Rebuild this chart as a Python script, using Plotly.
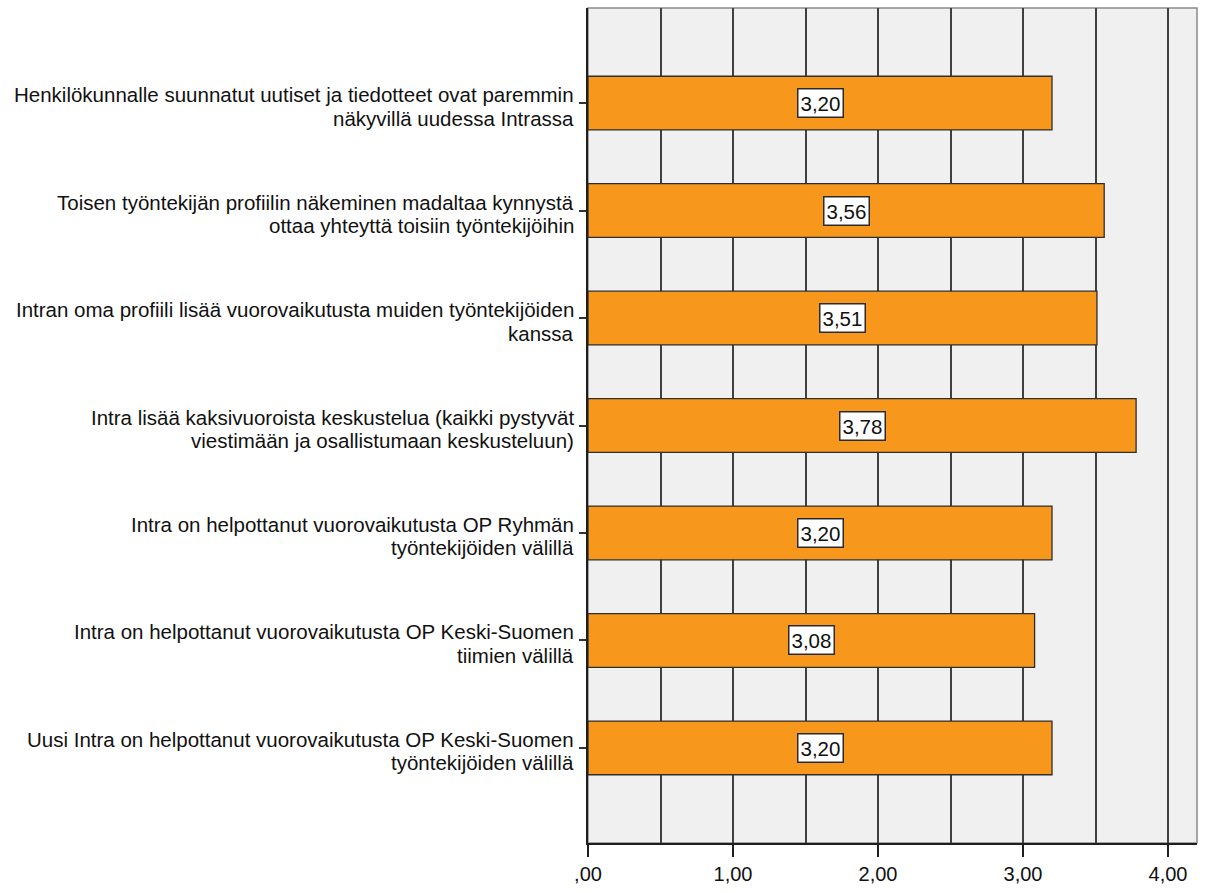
import plotly.graph_objects as go

# Survey statements (each split into its two display lines) and mean scores
statement_lines = [
    ["Henkilökunnalle suunnatut uutiset ja tiedotteet ovat paremmin", "näkyvillä uudessa Intrassa"],
    ["Toisen työntekijän profiilin näkeminen madaltaa kynnystä", "ottaa yhteyttä toisiin työntekijöihin"],
    ["Intran oma profiili lisää vuorovaikutusta muiden työntekijöiden", "kanssa"],
    ["Intra lisää kaksivuoroista keskustelua (kaikki pystyvät", "viestimään ja osallistumaan keskusteluun)"],
    ["Intra on helpottanut vuorovaikutusta OP Ryhmän", "työntekijöiden välillä"],
    ["Intra on helpottanut vuorovaikutusta OP Keski-Suomen", "tiimien välillä"],
    ["Uusi Intra on helpottanut vuorovaikutusta OP Keski-Suomen", "työntekijöiden välillä"],
]
mean_scores = [3.20, 3.56, 3.51, 3.78, 3.20, 3.08, 3.20]

x_tick_values = [0, 1, 2, 3, 4]
x_tick_labels = [",00", "1,00", "2,00", "3,00", "4,00"]

categories = [" ".join(lines) for lines in statement_lines]

FONT = "Arial, 'Liberation Sans', sans-serif"
TEXT_COLOR = "#111111"
BAR_COLOR = "#F7981D"
GRID_COLOR = "#404040"
AXIS_COLOR = "#1E1E1E"


def fi_number(v):
    return f"{v:.2f}".replace(".", ",")


fig = go.Figure(
    go.Bar(
        x=mean_scores,
        y=categories,
        orientation="h",
        width=0.5,
        marker=dict(color=BAR_COLOR, line=dict(color="#2E2E2E", width=1.3)),
        hoverinfo="skip",
    )
)

annotations = []
# value boxes centred on each bar
for cat, v in zip(categories, mean_scores):
    annotations.append(
        dict(
            x=v / 2, y=cat, xref="x", yref="y",
            text=fi_number(v), showarrow=False,
            font=dict(family=FONT, size=20.5, color=TEXT_COLOR),
            bgcolor="#FFFFFF", bordercolor="#2A2A2A", borderwidth=1.5, borderpad=2,
            xanchor="center", yanchor="middle",
        )
    )

# right-aligned two-line category labels next to the y ticks
LINE_STEP = 23.5
for cat, lines in zip(categories, statement_lines):
    for i, line in enumerate(lines):
        annotations.append(
            dict(
                x=0, y=cat, xref="paper", yref="y",
                text=line, showarrow=False,
                font=dict(family=FONT, size=20.5, color=TEXT_COLOR),
                xanchor="right", yanchor="middle",
                xshift=-12, yshift=8.5 - LINE_STEP * i,
            )
        )

fig.update_layout(
    width=1205,
    height=893,
    margin=dict(l=588, r=8, t=8, b=40),
    paper_bgcolor="#FFFFFF",
    plot_bgcolor="#F0F0F0",
    showlegend=False,
    bargap=0.5,
    font=dict(family=FONT, size=20, color=TEXT_COLOR),
    annotations=annotations,
    shapes=[
        # light frame on the top and right edges of the plot area
        dict(type="rect", xref="paper", yref="paper", x0=0, x1=1, y0=0, y1=1,
             line=dict(color="#8A8A8A", width=1.5), layer="below"),
    ],
    xaxis=dict(
        range=[0, 4.2],
        tickvals=x_tick_values,
        ticktext=x_tick_labels,
        ticks="outside",
        ticklen=12,
        tickwidth=2,
        tickcolor=AXIS_COLOR,
        tickfont=dict(family=FONT, size=20, color=TEXT_COLOR),
        showline=True,
        linecolor=AXIS_COLOR,
        linewidth=2,
        showgrid=True,
        gridcolor=GRID_COLOR,
        gridwidth=2,
        minor=dict(dtick=0.5, tick0=0, showgrid=True, gridcolor=GRID_COLOR, gridwidth=2, ticks=""),
        zeroline=False,
        fixedrange=True,
    ),
    yaxis=dict(
        type="category",
        categoryorder="array",
        categoryarray=categories,
        range=[6.885, -0.885],
        showticklabels=False,
        ticks="outside",
        ticklen=7,
        tickwidth=1.5,
        tickcolor="#333333",
        showline=True,
        linecolor=AXIS_COLOR,
        linewidth=2,
        showgrid=False,
        zeroline=False,
        fixedrange=True,
    ),
)

fig.write_html("out.html")
